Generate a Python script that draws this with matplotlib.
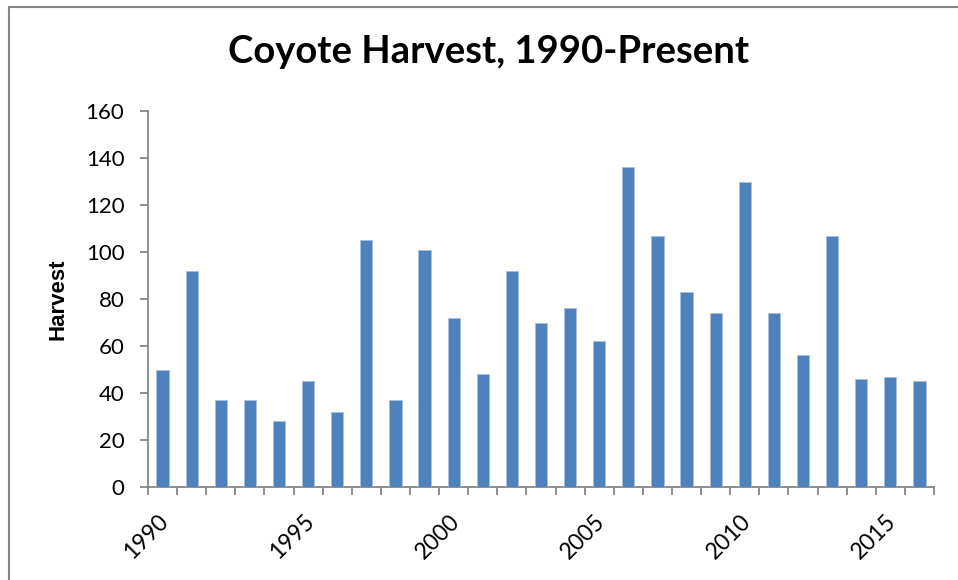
import matplotlib
matplotlib.use("Agg")
import matplotlib.pyplot as plt
from matplotlib.lines import Line2D
from matplotlib.transforms import ScaledTranslation

years = list(range(1990, 2017))
harvest = [50, 92, 37, 37, 28, 45, 32, 105, 37, 101, 72, 48, 92, 70, 76, 62,
           136, 107, 83, 74, 130, 74, 56, 107, 46, 47, 45]
yticks = [0, 20, 40, 60, 80, 100, 120, 140, 160]
label_years = [1990, 1995, 2000, 2005, 2010, 2015]

fig = plt.figure(figsize=(9.58, 5.80), dpi=100)
ax = fig.add_axes([148/958, 1-487/580, (934-148)/958, (487-111)/580])

xs = list(range(len(years)))
ax.bar(xs, harvest, width=0.42, color="#4F81BD", edgecolor="#A7C0DE", linewidth=0.6, zorder=3)

ax.set_xlim(-0.5, len(years) - 0.5)
ax.set_ylim(0, 160)
ax.set_yticks(yticks)
ax.set_yticklabels([str(v) for v in yticks], fontsize=16, family="Lato")

# category boundary ticks
ax.set_xticks([i - 0.5 for i in range(len(years) + 1)])
ax.set_xticklabels([])
ax.tick_params(axis="x", which="major", length=6, width=1.3, color="#868686", direction="out")
ax.tick_params(axis="y", which="major", length=6, width=1.3, color="#868686", direction="out", pad=11)

minor_pos = [years.index(y) for y in label_years]
ax.set_xticks(minor_pos, minor=True)
ax.set_xticklabels([str(y) for y in label_years], minor=True, rotation=45,
                   ha="right", va="top", rotation_mode="anchor", fontsize=16.5, family="Lato")
ax.tick_params(axis="x", which="minor", length=0, pad=17)
offset = ScaledTranslation(-5/100, 0, fig.dpi_scale_trans)
for lab in ax.get_xticklabels(minor=True):
    lab.set_transform(lab.get_transform() + offset)

for s in ["top", "right"]:
    ax.spines[s].set_visible(False)
for s in ["left", "bottom"]:
    ax.spines[s].set_color("#868686")
    ax.spines[s].set_linewidth(1.3)

fig.text(58/958, 1-299/580, "Harvest", rotation=90, ha="center", va="center",
         fontsize=16, fontweight="bold", family="Liberation Sans")

fig.text(489/958, 1-52/580, "Coyote Harvest, 1990-Present", ha="center", va="center",
         fontsize=27.5, fontweight="bold", family="Lato")

# figure border (left and top visible)
fig.add_artist(Line2D([8.5/958, 8.5/958], [0, 1-6.5/580], transform=fig.transFigure, color="#868686", lw=1.5))
fig.add_artist(Line2D([8.5/958, 1], [1-6.5/580, 1-6.5/580], transform=fig.transFigure, color="#868686", lw=1.5))

fig.savefig("out.png", dpi=100)
